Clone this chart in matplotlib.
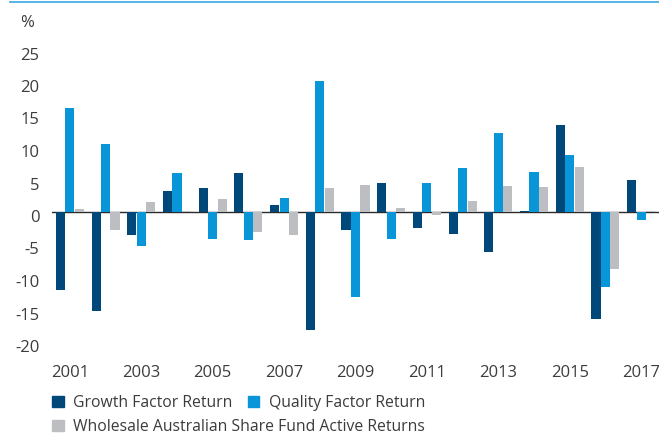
import numpy as np
import matplotlib
matplotlib.use('Agg')
import matplotlib.pyplot as plt
from matplotlib.lines import Line2D
from matplotlib.patches import Patch
from matplotlib.transforms import ScaledTranslation

# datos
years = [2001, 2002, 2003, 2004, 2005, 2006, 2007, 2008, 2009,
         2010, 2011, 2012, 2013, 2014, 2015, 2016, 2017]
growth = [-12.0, -15.3, -3.6, 3.2, 3.7, 6.0, 1.1, -18.2, -2.8,
          4.5, -2.4, -3.4, -6.2, 0.2, 13.4, -16.4, 4.9]
quality = [16.0, 10.4, -5.3, 6.0, -4.1, -4.3, 2.2, 20.2, -13.1,
           -4.1, 4.5, 6.8, 12.2, 6.2, 8.8, -11.6, -1.3]
active = [0.5, -2.8, 1.6, 0.1, 2.0, -3.1, -3.6, 3.7, 4.2,
          0.6, -0.5, 1.7, 4.0, 3.9, 6.9, -8.7, 0.1]
labels = ['Growth Factor Return', 'Quality Factor Return',
          'Wholesale Australian Share Fund Active Returns']
yticks = [25, 20, 15, 10, 5, 0, -5, -10, -15, -20]
xticks = [2001, 2003, 2005, 2007, 2009, 2011, 2013, 2015, 2017]

c_growth = '#00477a'
c_quality = '#0896d8'
c_active = '#bdbec1'
txt = '#3c3c3c'

plt.rcParams['font.family'] = ['Open Sans', 'DejaVu Sans']
plt.rcParams['axes.unicode_minus'] = False

fig = plt.figure(figsize=(6.59, 4.34), dpi=100)
ax = fig.add_axes([52/659, 79/434, 607/659, 325/434])

x = np.array(years)
w = 0.255
d = 0.265
ax.bar(x - d, growth, w, color=c_growth, zorder=2)
ax.bar(x, quality, w, color=c_quality, zorder=2)
ax.bar(x + d, active, w, color=c_active, zorder=2)
ax.axhline(0, color='#2b2b2b', lw=1.0, zorder=1)

ax.set_xlim(2000.5, 2017.5)
ax.set_ylim(-22, 28)
ax.set_yticks(yticks)
ax.set_xticks(xticks)
ax.tick_params(length=0, labelsize=12, colors=txt)
ax.tick_params(axis='y', pad=9)
ax.tick_params(axis='x', pad=7)
for s in ax.spines.values():
    s.set_visible(False)

# etiquetas del eje y un poco mas abajo, como en el original
off = ScaledTranslation(0, -4/100, fig.dpi_scale_trans)
for lab in ax.get_yticklabels():
    lab.set_transform(lab.get_transform() + off)

fig.text(20/659, 1 - 23/434, '%', fontsize=12, color=txt, va='center')

# linea azul superior
fig.add_artist(Line2D([10/659, 1], [1 - 1.8/434, 1 - 1.8/434],
                      transform=fig.transFigure, color='#3aa8df', lw=1.2))

# leyenda en dos filas
h = [Patch(color=c_growth), Patch(color=c_quality), Patch(color=c_active)]
kw = dict(frameon=False, fontsize=11.3, handlelength=0.74, handleheight=0.74,
          handletextpad=0.62, borderpad=0, borderaxespad=0, labelcolor=txt)
leg1 = fig.legend(h[:2], labels[:2], ncol=2, columnspacing=0.95,
                  loc='center left', bbox_to_anchor=(52/659, 1 - 403/434), **kw)
leg2 = fig.legend(h[2:], labels[2:], loc='center left',
                  bbox_to_anchor=(52/659, 1 - 427/434), **kw)

fig.savefig('out.png', dpi=100)
